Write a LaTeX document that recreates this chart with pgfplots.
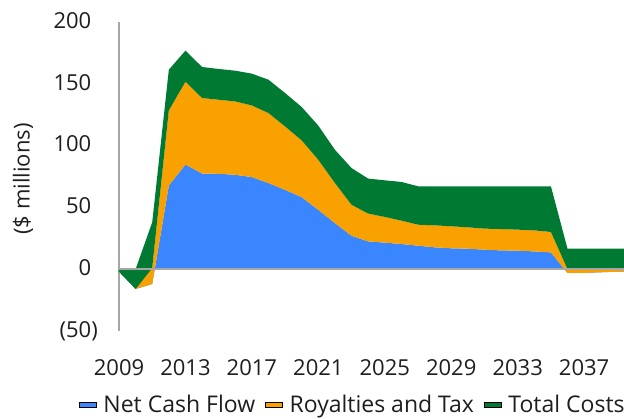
\documentclass[border=0pt]{standalone}
\usepackage{fontspec}
\setmainfont{Open Sans}
\usepackage{pgfplots}
\usepackage{pgfplotstable}
\pgfplotsset{compat=1.18}
\usepgfplotslibrary{fillbetween}
\definecolor{cblue}{RGB}{58,134,255}
\definecolor{corange}{RGB}{249,161,0}
\definecolor{cgreen}{RGB}{0,122,51}
\definecolor{axgray}{RGB}{166,166,166}
\definecolor{txt}{RGB}{30,30,30}
% cumulative tops: c1 = net cash flow, c2 = + royalties and tax, c3 = + total costs
\pgfplotstableread{
x z c1 c2 c3
0 0 -2 -2 0
1 0 -16 -16 0
2 0 -12 1 38
3 0 67.7 128.5 161.4
4 0 84.7 151.7 176.8
5 0 77.4 138.5 163.6
6 0 77.2 137.1 162.0
7 0 76.4 135.7 160.6
8 0 74.5 132.5 158.2
9 0 69.7 126.3 153.3
10 0 64.2 115.5 142.5
11 0 58.3 104.2 131.2
12 0 48 88.5 116.1
13 0 37.3 69.7 96.6
14 0 27 52.1 81.8
15 0 22.5 45 73.3
16 0 21.5 42.3 71.9
17 0 20.4 39.3 70.6
18 0 19 36 67.1
19 0 17.7 35.5 67.1
20 0 16.9 34.7 67.1
21 0 16.6 33.9 67.1
22 0 15.8 32.8 67.1
23 0 15.2 32.5 67.1
24 0 15 32 67.1
25 0 14.4 31.4 67.1
26 0 13.6 30.1 67.1
27 0 -3 0 16.6
28 0 -3 0 16.6
29 0 -2.5 0 16.6
30 0 -2 0 16.6
31 0 -2 0 16.6
}\data
\begin{document}
\begin{tikzpicture}
\begin{axis}[
  width=505pt, height=309pt, scale only axis,
  xmin=0, xmax=30.4, ymin=-50, ymax=200,
  axis lines*=left,
  x axis line style={draw=none},
  y axis line style={draw=axgray, line width=1.5pt, -},
  xtick={0,4,...,28},
  xticklabels={2009,2013,2017,2021,2025,2029,2033,2037},
  ytick={-50,0,50,100,150,200},
  yticklabels={(50),0\phantom{)},50\phantom{)},100\phantom{)},150\phantom{)},200\phantom{)}},
  major tick length=0pt,
  /pgf/number format/assume math mode=true,
  tick label style={font=\fontsize{22}{26}\selectfont, text=txt, inner sep=0pt},
  yticklabel style={xshift=-21pt},
  xticklabel style={yshift=-28pt},
  ylabel={(\$ millions)},
  ylabel style={at={(axis description cs:-0.19,0.492)}, anchor=center, font=\fontsize{22}{26}\selectfont, text=txt},
  legend columns=3,
  legend style={at={(axis description cs:0.461,-0.238)}, anchor=center, draw=none, fill=none,
    font=\fontsize{23}{27}\selectfont, text=txt, inner sep=0pt,
    nodes={inner sep=0pt},
    /tikz/every odd column/.append style={column sep=7pt},
    /tikz/every even column/.append style={column sep=10pt}},
  legend image code/.code={\path[#1,draw=none] (0pt,-8.5pt) rectangle (17pt,8.5pt);},
  clip=true,
]
\addplot[draw=none, forget plot, name path=p0] table[x=x,y=z] {\data};
\addplot[draw=none, forget plot, name path=p1] table[x=x,y=c1] {\data};
\addplot[draw=none, forget plot, name path=p2] table[x=x,y=c2] {\data};
\addplot[draw=none, forget plot, name path=p3] table[x=x,y=c3] {\data};
\addplot[fill=cblue, draw=none] fill between[of=p0 and p1];
\addplot[fill=corange, draw=none] fill between[of=p1 and p2];
\addplot[fill=cgreen, draw=none] fill between[of=p2 and p3];
\draw[axgray, line width=1.5pt] (axis cs:0,0) -- (axis cs:30.4,0);
\legend{Net Cash Flow, Royalties and Tax, Total Costs}
\end{axis}
\pgfresetboundingbox
\useasboundingbox (-119pt,-87pt) rectangle (505pt,331pt);
\end{tikzpicture}
\end{document}
